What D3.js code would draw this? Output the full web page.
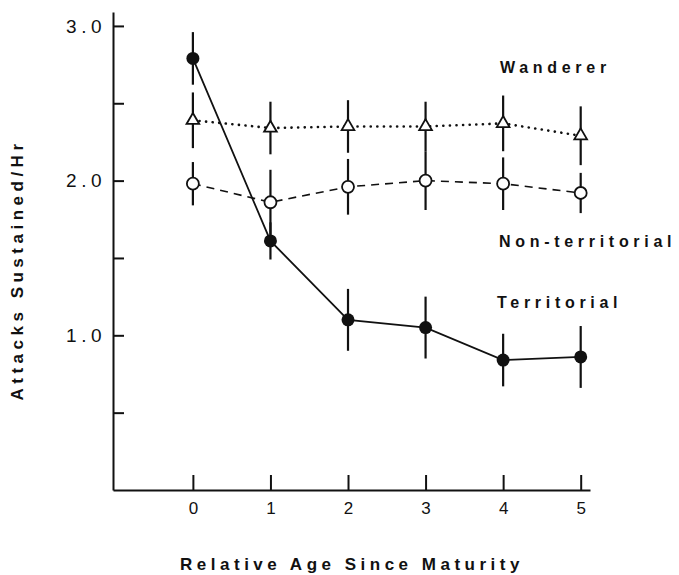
<!DOCTYPE html>
<html>
<head>
<meta charset="utf-8">
<script src="https://cdn.jsdelivr.net/npm/d3@7"></script>
<style>
  body { margin: 0; background: #fff; }
  text { font-family: "Liberation Sans", Arial, sans-serif; fill: #111; }
</style>
</head>
<body>
<script>
// data
const ages = [0, 1, 2, 3, 4, 5];
const territorial = [2.79, 1.61, 1.10, 1.05, 0.84, 0.86];
const territorialErr = [0.17, 0.12, 0.20, 0.20, 0.17, 0.20];
const wanderer = [2.39, 2.34, 2.35, 2.35, 2.37, 2.29];
const wandererErr = [0.18, 0.17, 0.17, 0.16, 0.18, 0.19];
const nonTerritorial = [1.98, 1.86, 1.96, 2.00, 1.98, 1.92];
const nonTerritorialErr = [0.14, 0.21, 0.18, 0.19, 0.17, 0.13];
const yTicks = [0.5, 1, 1.5, 2, 2.5, 3];

const width = 679;
const height = 575;

const svg = d3.select("body")
    .append("svg")
    .attr("width", width)
    .attr("height", height);

const x = d3.scaleLinear().domain([-1.03, 5.12]).range([113, 590]);
const y = d3.scaleLinear().domain([0, 3.09]).range([490, 12]);

// y axis, ticks pointing inward
svg.append("g")
    .attr("transform", "translate(113,0)")
    .call(d3.axisLeft(y).tickValues(yTicks).tickSizeInner(-11).tickSizeOuter(0).tickPadding(7)
        .tickFormat(d => Number.isInteger(d) ? d.toFixed(1) : ""))
    .call(g => g.selectAll("path, line").attr("stroke", "#111").attr("stroke-width", 2))
    .call(g => g.selectAll("text").attr("font-size", 19).attr("letter-spacing", "4.5px").attr("fill", "#111"));

// x axis
svg.append("g")
    .attr("transform", "translate(0,490)")
    .call(d3.axisBottom(x).tickValues(ages).tickSizeInner(-15).tickSizeOuter(0).tickPadding(12)
        .tickFormat(d3.format("d")))
    .call(g => g.selectAll("path, line").attr("stroke", "#111").attr("stroke-width", 2))
    .call(g => g.selectAll("text").attr("font-size", 17).attr("fill", "#111"));

svg.append("text")
    .attr("x", 352).attr("y", 570)
    .attr("text-anchor", "middle")
    .attr("font-size", 17)
    .attr("font-weight", "bold")
    .attr("letter-spacing", "4.5px")
    .text("Relative Age Since Maturity");

svg.append("text")
    .attr("transform", "translate(23,270) rotate(-90)")
    .attr("text-anchor", "middle")
    .attr("font-size", 17)
    .attr("font-weight", "bold")
    .attr("letter-spacing", "4.5px")
    .text("Attacks Sustained/Hr");

const line = d3.line().x((d, i) => x(ages[i])).y(d => y(d));

function errorBars(vals, errs) {
    svg.append("g").selectAll("line")
        .data(vals)
        .join("line")
        .attr("x1", (d, i) => x(ages[i]))
        .attr("x2", (d, i) => x(ages[i]))
        .attr("y1", (d, i) => y(d + errs[i]))
        .attr("y2", (d, i) => y(d - errs[i]))
        .attr("stroke", "#111")
        .attr("stroke-width", 2.2);
}

errorBars(wanderer, wandererErr);
errorBars(nonTerritorial, nonTerritorialErr);
errorBars(territorial, territorialErr);

// wanderer: dotted line, open triangles
svg.append("path")
    .datum(wanderer)
    .attr("d", line)
    .attr("fill", "none")
    .attr("stroke", "#111")
    .attr("stroke-width", 2.6)
    .attr("stroke-linecap", "round")
    .attr("stroke-dasharray", "0.1 6.5");

svg.append("g").selectAll("path")
    .data(wanderer)
    .join("path")
    .attr("transform", (d, i) => `translate(${x(ages[i])},${y(d)})`)
    .attr("d", d3.symbol(d3.symbolTriangle, 70))
    .attr("fill", "#fff")
    .attr("stroke", "#111")
    .attr("stroke-width", 1.8);

// non-territorial: dashed line, open circles
svg.append("path")
    .datum(nonTerritorial)
    .attr("d", line)
    .attr("fill", "none")
    .attr("stroke", "#111")
    .attr("stroke-width", 1.6)
    .attr("stroke-dasharray", "8 6");

svg.append("g").selectAll("circle")
    .data(nonTerritorial)
    .join("circle")
    .attr("cx", (d, i) => x(ages[i]))
    .attr("cy", d => y(d))
    .attr("r", 6)
    .attr("fill", "#fff")
    .attr("stroke", "#111")
    .attr("stroke-width", 1.8);

// territorial: solid line, filled circles
svg.append("path")
    .datum(territorial)
    .attr("d", line)
    .attr("fill", "none")
    .attr("stroke", "#111")
    .attr("stroke-width", 1.8);

svg.append("g").selectAll("circle")
    .data(territorial)
    .join("circle")
    .attr("cx", (d, i) => x(ages[i]))
    .attr("cy", d => y(d))
    .attr("r", 6.5)
    .attr("fill", "#111");

// series labels
const labels = [
    { name: "Wanderer", x: 500, y: 73 },
    { name: "Non-territorial", x: 499, y: 247 },
    { name: "Territorial", x: 497, y: 308 }
];
svg.append("g").selectAll("text")
    .data(labels)
    .join("text")
    .attr("x", d => d.x)
    .attr("y", d => d.y)
    .attr("font-size", 16)
    .attr("font-weight", "bold")
    .attr("letter-spacing", "4.7px")
    .text(d => d.name);
</script>
</body>
</html>
